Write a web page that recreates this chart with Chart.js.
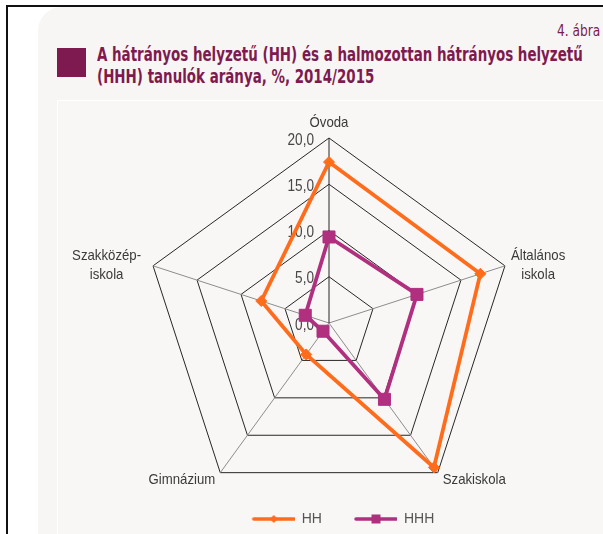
<!DOCTYPE html>
<html><head><meta charset="utf-8">
<script src="https://cdn.jsdelivr.net/npm/chart.js@4.4.1/dist/chart.umd.min.js"></script>
<style>
html,body{margin:0;padding:0;width:603px;height:534px;overflow:hidden;background:#fff;}
#frameTop{position:absolute;left:6px;top:5px;width:597px;height:2px;background:#111;}
#frameLeft{position:absolute;left:6px;top:5px;width:2px;height:529px;background:#111;}
#panel{position:absolute;left:38px;top:7px;width:620px;height:560px;background:#f7f6f4;border-top-left-radius:24px;}
#inner{position:absolute;left:57px;top:100px;width:600px;height:500px;border-top:1px solid #fff;border-left:1px solid #fff;background:#f8f7f5;}
#sq{position:absolute;left:57px;top:48px;width:29px;height:29px;background:#7e1a4f;}
.t{position:absolute;left:97px;font-family:"DejaVu Sans Condensed","DejaVu Sans",sans-serif;font-weight:bold;color:#7e1a4f;font-size:19px;white-space:nowrap;transform-origin:0 0;line-height:1;}
#fig{position:absolute;left:557px;top:23px;font-family:"DejaVu Sans Condensed","DejaVu Sans",sans-serif;color:#7e1a4f;font-size:16px;white-space:nowrap;transform-origin:0 0;transform:scaleX(0.85);line-height:1;}
canvas{position:absolute;left:0;top:0;}
</style>
</head><body>
<div id="panel"></div>
<div id="inner"></div>
<div id="frameTop"></div>
<div id="frameLeft"></div>
<div id="fig">4. ábra</div>
<div id="sq"></div>
<div class="t" id="t1" style="top:45px">A hátrányos helyzetű (HH) és a halmozottan hátrányos helyzetű</div>
<div class="t" id="t2" style="top:67px">(HHH) tanulók aránya, %, 2014/2015</div>
<canvas id="c" width="603" height="540"></canvas>
<script>
// ---- data ----
const categories = ['Óvoda', ['Általános', 'iskola'], 'Szakiskola', 'Gimnázium', ['Szakközép-', 'iskola']];
const seriesNames = ['HH', 'HHH'];
const hhValues = [17.4, 17.2, 19.3, 4.2, 7.7];
const hhhValues = [9.3, 10.0, 10.2, 1.1, 2.7];
const axisMin = 0, axisMax = 20, axisStep = 5;

// ---- title fitting ----
const t1 = document.getElementById('t1'), t2 = document.getElementById('t2');
const sc = 486 / t1.offsetWidth;
t1.style.transform = 'scaleX(' + sc + ')';
t2.style.transform = 'scaleX(' + sc + ')';

const FAM = '"Liberation Sans", Arial, sans-serif';
const LEG_SIZE = 14;
const LAB_SIZE = 15, LAB_SX = 0.88;
const TICK_SIZE = 16, TICK_SX = 0.85;

const ORANGE = '#ff6c1c';
const PURPLE = '#b02f7f';

// legend item width
const mctx = document.createElement('canvas').getContext('2d');
mctx.font = LEG_SIZE + 'px ' + FAM;
const twHH = mctx.measureText(seriesNames[0]).width;
const LEG_PAD = 4;
const IMG_W = Math.round(102 - LEG_SIZE / 2 - twHH - LEG_PAD);

function legendImg(color, style) {
  const W = IMG_W, H = 16;
  const c = document.createElement('canvas'); c.width = W; c.height = H;
  const g = c.getContext('2d');
  g.strokeStyle = color; g.lineWidth = 3.5; g.lineCap = 'round';
  g.beginPath(); g.moveTo(W - 41, H / 2); g.lineTo(W - 1, H / 2); g.stroke();
  g.fillStyle = color;
  const cx = W - 21, cy = H / 2;
  g.beginPath();
  if (style === 'rectRot') {
    g.moveTo(cx, cy - 4); g.lineTo(cx + 4, cy); g.lineTo(cx, cy + 4); g.lineTo(cx - 4, cy);
  } else {
    g.rect(cx - 4.5, cy - 4.5, 9, 9);
  }
  g.closePath(); g.fill();
  return c;
}
const legImgs = [legendImg(ORANGE, 'rectRot'), legendImg(PURPLE, 'rect')];

function drawScaled(ctx, text, x, y, align, sx) {
  ctx.save();
  ctx.translate(x, y); ctx.scale(sx, 1);
  ctx.textAlign = align;
  ctx.fillText(text, 0, 0);
  ctx.restore();
}

const labelsPlugin = {
  id: 'customLabels',
  beforeDatasetsDraw(chart) {
    const s = chart.scales.r; const ctx = chart.ctx;
    ctx.save();
    ctx.textBaseline = 'alphabetic';
    ctx.font = TICK_SIZE + 'px ' + FAM;
    ctx.fillStyle = '#474747';
    s.ticks.forEach(t => {
      const y = s.yCenter - s.getDistanceFromCenterForValue(t.value);
      drawScaled(ctx, t.value.toFixed(1).replace('.', ','), s.xCenter - 15, y + 6.5, 'right', TICK_SX);
    });
    ctx.font = LAB_SIZE + 'px ' + FAM;
    ctx.fillStyle = '#3a3a3a';
    const LH = 19;
    chart.data.labels.forEach((lab, i) => {
      const lines = Array.isArray(lab) ? lab : [lab];
      const v = s.getPointPosition(i, s.drawingArea);
      const dx = v.x - s.xCenter, dy = v.y - s.yCenter;
      const bw = Math.max(...lines.map(l => ctx.measureText(l).width)) * LAB_SX;
      let cx, y0;
      if (Math.abs(dx) < 1) { cx = v.x; y0 = v.y - 11 - (lines.length - 1) * LH; }
      else if (dy < 0) { cx = dx > 0 ? v.x + 6 + bw / 2 : v.x - 12 - bw / 2; y0 = v.y - 6; }
      else { cx = dx > 0 ? v.x + 5 + bw / 2 : v.x - 5 - bw / 2; y0 = v.y + 11.5; }
      lines.forEach((l, k) => drawScaled(ctx, l, cx, y0 + k * LH, 'center', LAB_SX));
    });
    ctx.restore();
  }
};

const legH = LEG_SIZE + LEG_PAD + 10;
const padBottom = 540 - 138 - 370 - legH;

new Chart(document.getElementById('c'), {
  type: 'radar',
  data: {
    labels: categories,
    datasets: [
      { label: seriesNames[0], data: hhValues, borderColor: ORANGE, backgroundColor: ORANGE, borderWidth: 3.8,
        pointStyle: 'rectRot', pointRadius: 5.5, pointBorderWidth: 1, pointBackgroundColor: ORANGE, pointBorderColor: ORANGE, fill: false, tension: 0 },
      { label: seriesNames[1], data: hhhValues, borderColor: PURPLE, backgroundColor: PURPLE, borderWidth: 3.8,
        pointStyle: 'rect', pointRadius: 8.5, pointBorderWidth: 1, pointBackgroundColor: PURPLE, pointBorderColor: PURPLE, fill: false, tension: 0 }
    ]
  },
  options: {
    responsive: false, animation: false, devicePixelRatio: 1,
    layout: { padding: { left: 144, right: 89, top: 138, bottom: padBottom } },
    scales: {
      r: {
        min: axisMin, max: axisMax,
        ticks: { stepSize: axisStep, display: false },
        pointLabels: { display: false },
        grid: { color: '#262626', lineWidth: 1 },
        angleLines: { color: (c) => c.index === 0 ? '#262626' : '#8c8c8c', lineWidth: 1 }
      }
    },
    plugins: {
      tooltip: { enabled: false },
      legend: {
        position: 'bottom',
        labels: {
          usePointStyle: true, pointStyleWidth: IMG_W, padding: LEG_PAD,
          color: '#555', font: { family: FAM, size: LEG_SIZE },
          generateLabels: (chart) => chart.data.datasets.map((d, i) => ({
            text: d.label, pointStyle: legImgs[i], fillStyle: d.borderColor, strokeStyle: d.borderColor,
            lineWidth: 0, hidden: false, datasetIndex: i, fontColor: '#555'
          }))
        }
      }
    }
  },
  plugins: [labelsPlugin]
});
</script>
</body></html>
